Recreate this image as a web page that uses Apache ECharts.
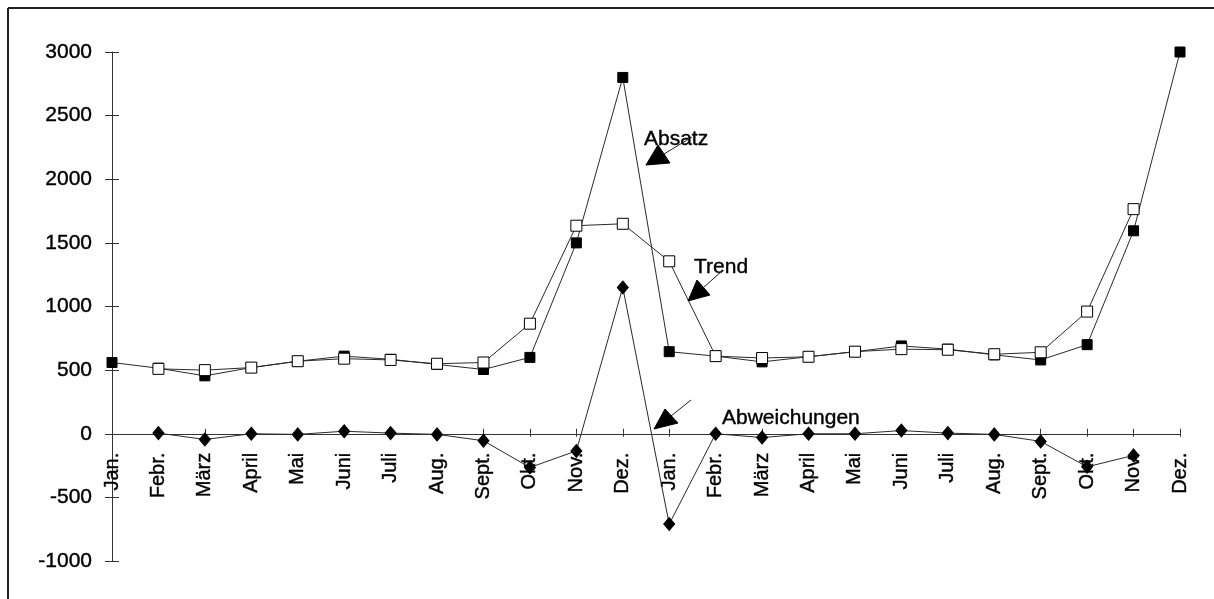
<!DOCTYPE html>
<html>
<head>
<meta charset="utf-8">
<script src="https://cdn.jsdelivr.net/npm/echarts@6/dist/echarts.min.js"></script>
<style>
  html, body { margin: 0; padding: 0; background: #fff; }
  #chart { width: 1214px; height: 599px; }
</style>
</head>
<body>
<div id="chart"></div>
<script>
// Monthly sales over two years, a smoothed trend and the deviation between them
const months = ['Jan.', 'Febr.', 'März', 'April', 'Mai', 'Juni', 'Juli', 'Aug.', 'Sept.', 'Okt.', 'Nov.', 'Dez.',
                'Jan.', 'Febr.', 'März', 'April', 'Mai', 'Juni', 'Juli', 'Aug.', 'Sept.', 'Okt.', 'Nov.', 'Dez.'];
const absatz = [560, 515, 455, 520, 570, 610, 585, 545, 505, 600, 1500, 2800,
                645, 610, 565, 605, 645, 690, 665, 620, 580, 700, 1595, 3000];
const trend = [null, 510, 500, 520, 570, 590, 580, 550, 560, 865, 1635, 1650,
               1355, 610, 595, 605, 645, 665, 660, 625, 640, 960, 1765, null];
const abweichungen = [null, 5, -45, 0, -5, 20, 5, -5, -55, -265, -135, 1150,
                      -710, 0, -30, 0, 0, 25, 5, -5, -60, -260, -170, null];
const yTicks = { min: -1000, max: 3000, step: 500 };

const FONT = '"Liberation Sans", Arial, sans-serif';
const INK = '#000';
const AXIS = '#333';

const W = 1214, H = 599;
const grid = { left: 112, right: 34, top: 52, bottom: 38 };
// the category axis sits on the zero line: shift it up from the grid bottom
const plotH = H - grid.top - grid.bottom;
const zeroShift = plotH * (0 - yTicks.min) / (yTicks.max - yTicks.min);

const chart = echarts.init(document.getElementById('chart'), null, { renderer: 'canvas' });

const lineStyle = { color: '#2a2a2a', width: 1 };
// slightly heavier glyphs, like a printed page
const inkText = { color: INK, fontFamily: FONT, textBorderColor: INK, textBorderWidth: 0.4 };

// Two overlaid axes per direction give ticks that cross the axis line
const valueAxis = (withLabels, inside) => ({
  type: 'value',
  position: 'left',
  min: yTicks.min,
  max: yTicks.max,
  interval: yTicks.step,
  axisLine: { show: withLabels, lineStyle: { color: AXIS, width: 1 } },
  axisTick: { show: true, inside: inside, length: 7, lineStyle: { color: AXIS, width: 1 } },
  axisLabel: Object.assign({ show: withLabels, fontSize: 21, margin: 20,
                             formatter: v => String(v) }, inkText),
  splitLine: { show: false }
});

const categoryAxis = (withLabels, inside) => ({
  type: 'category',
  data: months,
  boundaryGap: false,
  position: 'bottom',
  offset: -zeroShift,
  axisLine: { show: withLabels, onZero: false, lineStyle: { color: AXIS, width: 1 } },
  axisTick: { show: true, inside: inside, length: inside ? 5 : 3, alignWithLabel: true,
              interval: 0, lineStyle: { color: AXIS, width: 1 } },
  axisLabel: Object.assign({ show: withLabels, interval: 0, rotate: 90,
                             fontSize: 20, margin: 19, hideOverlap: false }, inkText),
  splitLine: { show: false }
});

const annotation = (label, textX, baseY, tail, base, tri) => [
  { type: 'text', x: textX, y: baseY, z: 10,
    style: { text: label, fill: INK, font: '21px ' + FONT, textAlign: 'left', textBaseline: 'alphabetic',
             stroke: INK, lineWidth: 0.4 } },
  { type: 'line', z: 10,
    shape: { x1: tail[0], y1: tail[1], x2: base[0], y2: base[1] },
    style: { stroke: '#222', lineWidth: 1 } },
  { type: 'polygon', z: 10,
    shape: { points: tri },
    style: { fill: '#000', stroke: '#000', lineWidth: 1 } }
];

chart.setOption({
  backgroundColor: '#fff',
  animation: false,
  grid: Object.assign({ containLabel: false, outerBoundsMode: 'none' }, grid),
  xAxis: [categoryAxis(true, false), categoryAxis(false, true)],
  yAxis: [valueAxis(true, false), valueAxis(false, true)],
  series: [
    {
      name: 'Absatz', type: 'line', data: absatz, xAxisIndex: 0, yAxisIndex: 0,
      symbol: 'rect', symbolSize: 10, showAllSymbol: true,
      lineStyle: lineStyle, itemStyle: { color: '#000', borderColor: '#000', borderWidth: 1 }, z: 2
    },
    {
      name: 'Trend', type: 'line', data: trend, xAxisIndex: 0, yAxisIndex: 0,
      symbol: 'rect', symbolSize: 11, showAllSymbol: true, connectNulls: false,
      lineStyle: lineStyle, itemStyle: { color: '#fff', borderColor: '#000', borderWidth: 1 }, z: 3
    },
    {
      name: 'Abweichungen', type: 'line', data: abweichungen, xAxisIndex: 0, yAxisIndex: 0,
      symbol: 'diamond', symbolSize: [11, 13], showAllSymbol: true, connectNulls: false,
      lineStyle: lineStyle, itemStyle: { color: '#000', borderColor: '#000', borderWidth: 1 }, z: 4
    }
  ],
  graphic: [
    // frame lines along the top and left edge
    { type: 'line', shape: { x1: 8, y1: 8, x2: W, y2: 8 }, style: { stroke: '#222', lineWidth: 2 } },
    { type: 'line', shape: { x1: 8, y1: 8, x2: 8, y2: H }, style: { stroke: '#222', lineWidth: 2 } },
    ...annotation('Absatz', 644, 129, [692, 137], [664, 154], [[646, 165], [658, 145], [670, 163]]),
    ...annotation('Trend', 694, 257, [723, 270], [703, 288], [[688, 301], [697, 280], [710, 295]]),
    ...annotation('Abweichungen', 722, 408, [691, 400], [671, 416], [[654, 429], [665, 409], [678, 423]])
  ]
});
</script>
</body>
</html>
